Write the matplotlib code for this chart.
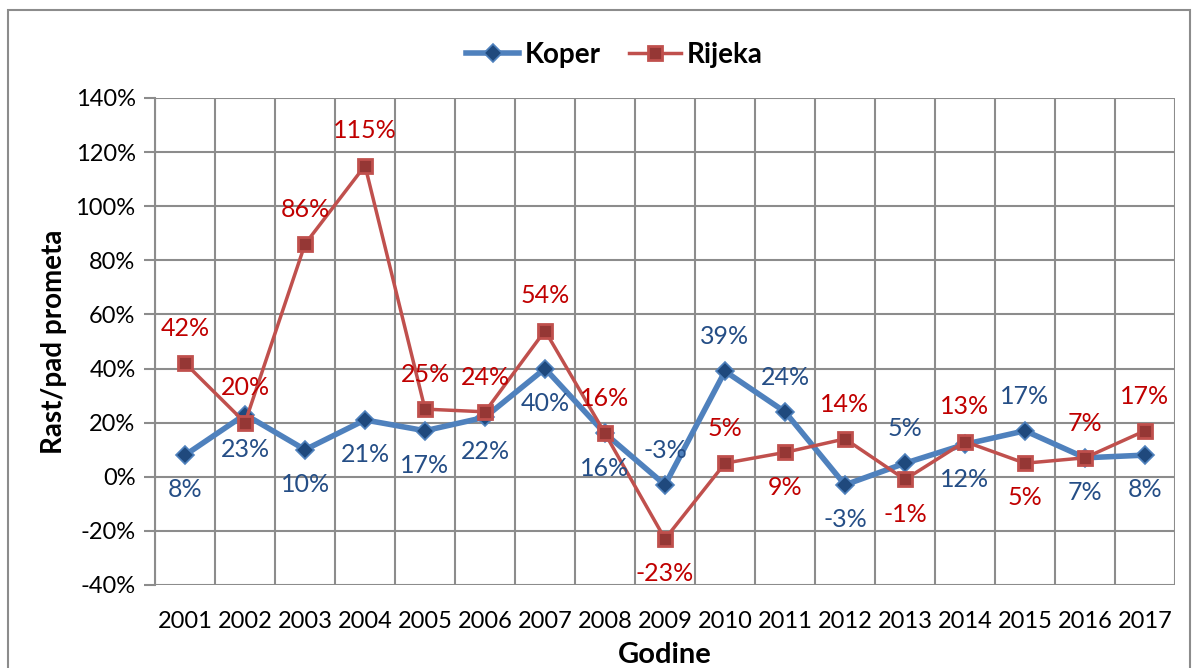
import matplotlib.pyplot as plt
from matplotlib.patches import Rectangle
from matplotlib.ticker import FuncFormatter, MultipleLocator

plt.rcParams['font.family'] = ['Lato', 'DejaVu Sans']

years = [str(y) for y in range(2001, 2018)]
koper = [8, 23, 10, 21, 17, 22, 40, 16, -3, 39, 24, -3, 5, 12, 17, 7, 8]
rijeka = [42, 20, 86, 115, 25, 24, 54, 16, -23, 5, 9, 14, -1, 13, 5, 7, 17]

# label placement: 1 = above the point, -1 = below
koper_pos = [-1, -1, -1, -1, -1, -1, -1, -1, 1, 1, 1, -1, 1, -1, 1, -1, -1]
rijeka_pos = [1, 1, 1, 1, 1, 1, 1, 1, -1, 1, -1, 1, -1, 1, -1, 1, 1]

blue_line = '#4F81BD'
blue_mark = '#1F497D'
blue_text = '#254E86'
red_line = '#C0504D'
red_mark = '#953735'
red_text = '#C00000'

fig = plt.figure(figsize=(11.98, 6.68), dpi=100)
ax = fig.add_axes([0.1294, 0.1243, 0.8514, 0.729])

x = list(range(len(years)))
ax.plot(x, koper, color=blue_line, lw=4, marker='D', ms=9,
        markerfacecolor=blue_mark, markeredgecolor=blue_line, markeredgewidth=1.2,
        label='Koper', zorder=3)
ax.plot(x, rijeka, color=red_line, lw=2.5, marker='s', ms=10,
        markerfacecolor=red_mark, markeredgecolor=red_line, markeredgewidth=2,
        label='Rijeka', zorder=4)

for i in x:
    ax.annotate(f"{koper[i]}%", (i, koper[i]), xytext=(0, 25 * koper_pos[i]),
                textcoords='offset points', ha='center', va='center',
                color=blue_text, fontsize=18, zorder=5)
    ax.annotate(f"{rijeka[i]}%", (i, rijeka[i]), xytext=(0, 25 * rijeka_pos[i]),
                textcoords='offset points', ha='center', va='center',
                color=red_text, fontsize=18, zorder=5)

ax.set_xlim(-0.5, len(years) - 0.5)
ax.set_ylim(-40, 140)
ax.yaxis.set_major_locator(MultipleLocator(20))
ax.yaxis.set_major_formatter(FuncFormatter(lambda v, p: f"{v:.0f}%"))
ax.set_xticks(x)
ax.set_xticklabels(years)
ax.set_xticks([i - 0.5 for i in range(len(years) + 1)], minor=True)

ax.grid(True, which='major', axis='y', color='#8C8C8C', lw=1.5)
ax.grid(True, which='minor', axis='x', color='#8C8C8C', lw=1.5)
ax.tick_params(axis='x', which='both', length=0, labelsize=17, pad=19)
ax.tick_params(axis='y', length=8, color='#8C8C8C', width=1.5, labelsize=17, pad=6)
for s in ['top', 'right', 'bottom']:
    ax.spines[s].set_visible(False)
ax.spines['left'].set_color('#8C8C8C')
ax.spines['left'].set_linewidth(1.5)

ax.set_ylabel('Rast/pad prometa', fontsize=20, fontweight='bold', labelpad=6)
ax.set_xlabel('Godine', fontsize=21, fontweight='bold', labelpad=7)

fig.legend(loc='center', bbox_to_anchor=(0.513, 0.918), ncol=2, frameon=False,
           prop={'size': 20, 'weight': 'bold'}, handlelength=1.9, columnspacing=1.0,
           handletextpad=0.2)

fig.patches.append(Rectangle((0.007, -0.05), 0.986, 1.035, transform=fig.transFigure,
                             fill=False, edgecolor='#8C8C8C', lw=1.5))

fig.savefig('out.png', dpi=100)
